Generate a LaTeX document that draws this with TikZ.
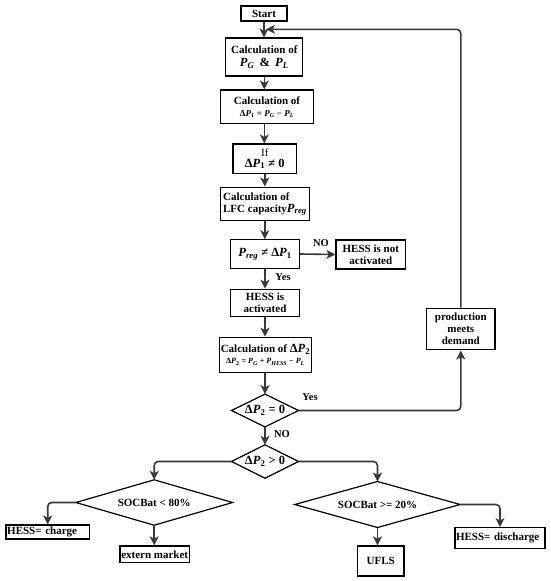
\documentclass[tikz,border=0pt]{standalone}
\usepackage{fontspec}
\setmainfont{Liberation Serif}
\usetikzlibrary{arrows.meta}
\newcommand\vP{\textit{P}}
\newcommand\sub[1]{\textsubscript{#1}}
\begin{document}
\begin{tikzpicture}[x=1pt,y=-1pt,
  box/.style={draw=black, line width=1.2pt, inner sep=1pt, align=center,
    font=\bfseries\fontsize{11}{12}\selectfont},
  dia/.style={rectangle, inner sep=0pt, align=center,
    font=\bfseries\fontsize{11}{12}\selectfont},
  diaedge/.style={draw=black, line width=1.2pt, line join=miter},
  arr/.style={draw=black!78, line width=1.6pt, -{Stealth[length=9pt,width=9pt,inset=2.5pt]}},
  lab/.style={font=\bfseries\fontsize{10.5}{11}\selectfont, inner sep=0pt}]
\useasboundingbox (0,0) rectangle (550,581);

\node[box, minimum width=46pt, minimum height=15pt] (start) at (264,13.5) {Start};
\node[box, minimum width=77pt, minimum height=38pt] (pg) at (264.3,57)
  {Calculation of\\[1pt] {\fontsize{12.5}{13}\selectfont\vP\sub{\textit{G}} \,\&\, \vP\sub{\textit{L}}}};
\node[box, minimum width=92.6pt, minimum height=33.3pt] (dp1) at (267,106.7)
  {Calculation of\\ {\fontsize{9}{10}\selectfont Δ\vP\sub{1} = \vP\sub{\textit{G}} − \vP\sub{\textit{L}}}};
\node[box, minimum width=63.7pt, minimum height=29.3pt] (if) at (264.8,158.7)
  {{\mdseries If}\\[-1pt] {\fontsize{12.5}{13}\selectfont Δ\vP\sub{1} ≠ 0}};
\node[box, minimum width=88.6pt, minimum height=33.7pt, align=left] (lfc) at (265,204)
  {Calculation of\\ LFC capacity{\fontsize{12.5}{13}\selectfont\vP\sub{\textit{reg}}}};
\node[box, minimum width=68.6pt, minimum height=28.3pt] (preg) at (265,254)
  {{\fontsize{12.5}{13}\selectfont\vP\sub{\textit{reg}} ≠ Δ\vP\sub{1}}};
\node[box, minimum width=69.7pt, minimum height=29pt] (notact) at (370.8,254.5)
  {HESS is not\\ activated};
\node[box, minimum width=68.6pt, minimum height=27.4pt] (act) at (265,303)
  {HESS is\\ activated};
\node[box, minimum width=89.3pt, minimum height=35.4pt] (dp2) at (265.5,355)
  {Calculation of {\fontsize{12.5}{13}\selectfont Δ\vP\sub{2}}\\[-1pt]
   {\fontsize{8}{9}\selectfont Δ\vP\sub{2} = \vP\sub{\textit{G}} + \vP\sub{\textit{HESS}} − \vP\sub{\textit{L}}}};
\node[dia, minimum width=66.6pt, minimum height=32.4pt] (d0) at (265,410.5)
  {{\fontsize{12.5}{13}\selectfont Δ\vP\sub{2} = 0}};
\node[box, minimum width=68.3pt, minimum height=41.7pt] (prod) at (460.8,329)
  {production\\ meets\\ demand};
\node[dia, minimum width=66.6pt, minimum height=33pt] (d1) at (265,461.5)
  {{\fontsize{12.5}{13}\selectfont Δ\vP\sub{2} > 0}};
\node[dia, minimum width=156.3pt, minimum height=45pt] (soc80) at (154.2,502.5)
  {SOCBat < 80\%};
\node[dia, minimum width=165pt, minimum height=45.6pt] (soc20) at (377.5,504.5)
  {SOCBat >= 20\%};
\node[box, minimum width=83.3pt, minimum height=14pt, text width=81pt, align=left] (charge) at (47.7,532)
  {HESS= charge};
\node[box, minimum width=69.3pt, minimum height=16.7pt] (ext) at (154.7,554.3)
  {extern market};
\node[box, minimum width=90pt, minimum height=20.6pt, text width=88pt, align=left] (dis) at (500,538)
  {HESS= discharge};
\node[box, minimum width=46.3pt, minimum height=30pt] (ufls) at (380.8,561)
  {UFLS};

\foreach \d in {d0,d1,soc80,soc20}
  \draw[diaedge] (\d.north) -- (\d.east) -- (\d.south) -- (\d.west) -- cycle;

\coordinate (join) at (266,29.3);

\draw[arr] (start.south) -- (start.south |- pg.north);
\draw[arr] (pg.south) -- (pg.south |- dp1.north);
\draw[arr] (pg.south |- dp1.south) -- (pg.south |- if.north);
\draw[arr] (if.south) -- (if.south |- lfc.north);
\draw[arr] (if.south |- lfc.south) -- (if.south |- preg.north);
\draw[arr] (preg.east) -- (notact.west);
\draw[arr] (preg.south) -- (act.north);
\draw[arr] (act.south) -- (act.south |- dp2.north);
\draw[arr] (act.south |- dp2.south) -- (d0.north);
\draw[arr] (d0.south) -- (d1.north);
\draw[arr, rounded corners=4pt] (d0.east) -| (prod.south);
\draw[arr, rounded corners=4pt] (prod.north) |- (join);
\draw[arr, rounded corners=4pt] (d1.west) -| (soc80.north);
\draw[arr, rounded corners=4pt] (d1.east) -| (soc20.north);
\draw[arr, rounded corners=4pt] (soc80.west) -| (charge.north);
\draw[arr] (soc80.south) -- (soc80.south |- ext.north);
\draw[arr, rounded corners=4pt] (soc20.east) -| (dis.north);
\draw[arr] (soc20.south) -- (soc20.south |- ufls.north);

\node[lab] (lno1) at (321,243) {NO};
\node[lab] (lyes1) at (283,277.5) {Yes};
\node[lab] (lyes2) at (310,397) {Yes};
\node[lab] (lno2) at (282,434) {NO};
\end{tikzpicture}
\end{document}
